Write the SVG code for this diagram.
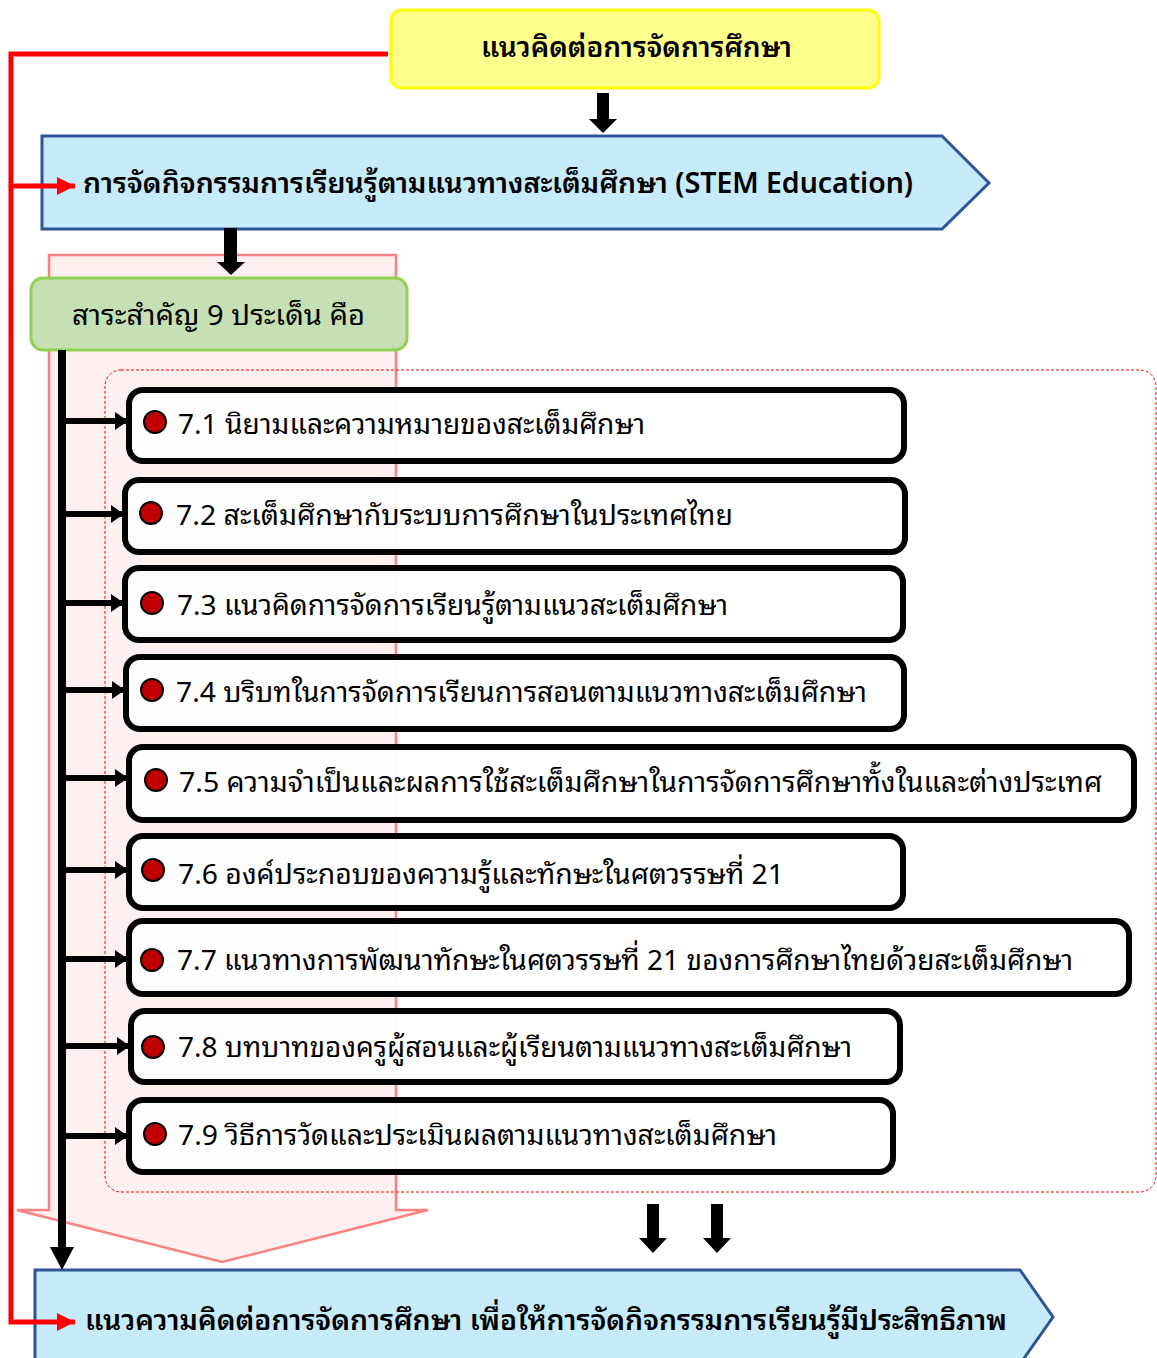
<svg xmlns="http://www.w3.org/2000/svg" width="1157" height="1358" viewBox="0 0 1157 1358">
  <style>
    .th { font-family: "Noto Sans Thai Looped", "Noto Sans Thai", "Noto Sans", "Leelawadee UI", Tahoma, "DejaVu Sans", sans-serif; fill: #000; }
    .b { font-weight: 600; }
    .lbl { font-size: 28px; }
    .item { fill: #fff; fill-opacity: 0.93; stroke: #000; stroke-width: 6; }
    .dot { fill: #C00000; stroke: #000; stroke-width: 2; }
    .blk { fill: #000; }
    .red { fill: none; stroke: #FF0000; stroke-width: 5; }
    .tick { stroke: #000; stroke-width: 6; }
  </style>
  <defs>
    <marker id="redHead" markerUnits="userSpaceOnUse" markerWidth="20" markerHeight="18" refX="18" refY="9" orient="auto">
      <path d="M0,0 L18,9 L0,18 Z" fill="#FF0000"/>
    </marker>
    <marker id="blkHead" markerUnits="userSpaceOnUse" markerWidth="14" markerHeight="20" refX="13" refY="10" orient="auto">
      <path d="M0,1 L13,10 L0,19 Z" fill="#000"/>
    </marker>
  </defs>

  <rect width="1157" height="1358" fill="#fff"/>

  <!-- large pale chevron behind the list -->
  <path id="backdrop" d="M49,255 H396 V1210 H428 L222,1262 L17,1210 H49 Z" fill="#FFF0F0" stroke="#FF8080" stroke-width="2.5"/>

  <!-- dashed frame around the nine items -->
  <rect id="frame" x="105" y="370" width="1051" height="822" rx="16" fill="none" stroke="#FF0000" stroke-width="1" stroke-dasharray="3,2"/>

  <g id="concept">
    <rect x="391" y="10" width="488" height="78" rx="11" fill="#FFFF8C" stroke="#FFFF00" stroke-width="3"/>
    <text class="th b lbl" x="481" y="57" textLength="311" lengthAdjust="spacingAndGlyphs">แนวคิดต่อการจัดการศึกษา</text>
  </g>

  <g id="stem">
    <path d="M42,136 H942 L989,183 L942,229 H42 Z" fill="#C6EBFA" stroke="#2F5597" stroke-width="3"/>
    <text class="th b lbl" x="83" y="193" textLength="830" lengthAdjust="spacingAndGlyphs">การจัดกิจกรรมการเรียนรู้ตามแนวทางสะเต็มศึกษา (STEM Education)</text>
  </g>

  <g id="essence">
    <rect x="31" y="278" width="376" height="72" rx="12" fill="#C5E0B4" stroke="#92D050" stroke-width="3"/>
    <text class="th lbl" x="72" y="325" textLength="293" lengthAdjust="spacingAndGlyphs">สาระสำคัญ 9 ประเด็น คือ</text>
  </g>

  <g id="item71">
    <rect class="item" x="129" y="390" width="775" height="71" rx="14"/>
    <circle class="dot" cx="155" cy="422" r="11"/>
    <text class="th lbl" x="178" y="434" textLength="467" lengthAdjust="spacingAndGlyphs">7.1 นิยามและความหมายของสะเต็มศึกษา</text>
  </g>
  <g id="item72">
    <rect class="item" x="125" y="480" width="780" height="72" rx="14"/>
    <circle class="dot" cx="151" cy="513" r="11"/>
    <text class="th lbl" x="176" y="525" textLength="557" lengthAdjust="spacingAndGlyphs">7.2 สะเต็มศึกษากับระบบการศึกษาในประเทศไทย</text>
  </g>
  <g id="item73">
    <rect class="item" x="125" y="568" width="778" height="72" rx="14"/>
    <circle class="dot" cx="152" cy="603" r="11"/>
    <text class="th lbl" x="177" y="615" textLength="551" lengthAdjust="spacingAndGlyphs">7.3 แนวคิดการจัดการเรียนรู้ตามแนวสะเต็มศึกษา</text>
  </g>
  <g id="item74">
    <rect class="item" x="126" y="657" width="778" height="72" rx="14"/>
    <circle class="dot" cx="152" cy="690" r="11"/>
    <text class="th lbl" x="176" y="702" textLength="691" lengthAdjust="spacingAndGlyphs">7.4 บริบทในการจัดการเรียนการสอนตามแนวทางสะเต็มศึกษา</text>
  </g>
  <g id="item75">
    <rect class="item" x="129" y="747" width="1005" height="73" rx="14"/>
    <circle class="dot" cx="156" cy="780" r="11"/>
    <text class="th lbl" x="179" y="792" textLength="923" lengthAdjust="spacingAndGlyphs">7.5 ความจำเป็นและผลการใช้สะเต็มศึกษาในการจัดการศึกษาทั้งในและต่างประเทศ</text>
  </g>
  <g id="item76">
    <rect class="item" x="129" y="836" width="774" height="72" rx="14"/>
    <circle class="dot" cx="153" cy="870" r="11"/>
    <text class="th lbl" x="178" y="884" textLength="606" lengthAdjust="spacingAndGlyphs">7.6 องค์ประกอบของความรู้และทักษะในศตวรรษที่ 21</text>
  </g>
  <g id="item77">
    <rect class="item" x="129" y="921" width="1000" height="73" rx="14"/>
    <circle class="dot" cx="152" cy="960" r="11"/>
    <text class="th lbl" x="177" y="970" textLength="896" lengthAdjust="spacingAndGlyphs">7.7 แนวทางการพัฒนาทักษะในศตวรรษที่ 21 ของการศึกษาไทยด้วยสะเต็มศึกษา</text>
  </g>
  <g id="item78">
    <rect class="item" x="131" y="1011" width="769" height="71" rx="14"/>
    <circle class="dot" cx="153" cy="1047" r="11"/>
    <text class="th lbl" x="178" y="1057" textLength="674" lengthAdjust="spacingAndGlyphs">7.8 บทบาทของครูผู้สอนและผู้เรียนตามแนวทางสะเต็มศึกษา</text>
  </g>
  <g id="item79">
    <rect class="item" x="129" y="1100" width="764" height="72" rx="14"/>
    <circle class="dot" cx="155" cy="1134" r="11"/>
    <text class="th lbl" x="178" y="1145" textLength="599" lengthAdjust="spacingAndGlyphs">7.9 วิธีการวัดและประเมินผลตามแนวทางสะเต็มศึกษา</text>
  </g>

  <g id="outcome">
    <path d="M35,1270 H1020 L1053,1317 L1020,1364 H35 Z" fill="#C6EBFA" stroke="#2F5597" stroke-width="3"/>
    <text class="th b lbl" x="85" y="1330" textLength="922" lengthAdjust="spacingAndGlyphs">แนวความคิดต่อการจัดการศึกษา เพื่อให้การจัดกิจกรรมการเรียนรู้มีประสิทธิภาพ</text>
  </g>

  <g id="connectors">
    <!-- red feedback line from the top box -->
    <polyline class="red" points="388,54 11,54 11,1322 75,1322" marker-end="url(#redHead)"/>
    <line class="red" x1="11" y1="186" x2="75" y2="186" marker-end="url(#redHead)"/>
    <!-- block arrows -->
    <path class="blk" d="M597,93 H609 V119 H617 L603,133 L589,119 H597 Z"/>
    <path class="blk" d="M224,228 H237 V262 H245 L231,275 L217,262 H224 Z"/>
    <path class="blk" d="M647,1204 H659 V1238 H667 L653,1253 L639,1238 H647 Z"/>
    <path class="blk" d="M711,1204 H723 V1238 H731 L717,1253 L703,1238 H711 Z"/>
    <!-- trunk line with branches to each item -->
    <rect class="blk" x="58" y="350" width="8" height="900"/>
    <path class="blk" d="M50,1247 H74 L62,1270 Z"/>
    <line class="tick" x1="62" y1="421" x2="128" y2="421" marker-end="url(#blkHead)"/>
    <line class="tick" x1="62" y1="514" x2="124" y2="514" marker-end="url(#blkHead)"/>
    <line class="tick" x1="62" y1="603" x2="124" y2="603" marker-end="url(#blkHead)"/>
    <line class="tick" x1="62" y1="690" x2="125" y2="690" marker-end="url(#blkHead)"/>
    <line class="tick" x1="62" y1="778" x2="128" y2="778" marker-end="url(#blkHead)"/>
    <line class="tick" x1="62" y1="870" x2="128" y2="870" marker-end="url(#blkHead)"/>
    <line class="tick" x1="62" y1="959" x2="128" y2="959" marker-end="url(#blkHead)"/>
    <line class="tick" x1="62" y1="1046" x2="130" y2="1046" marker-end="url(#blkHead)"/>
    <line class="tick" x1="62" y1="1136" x2="128" y2="1136" marker-end="url(#blkHead)"/>
  </g>
</svg>
